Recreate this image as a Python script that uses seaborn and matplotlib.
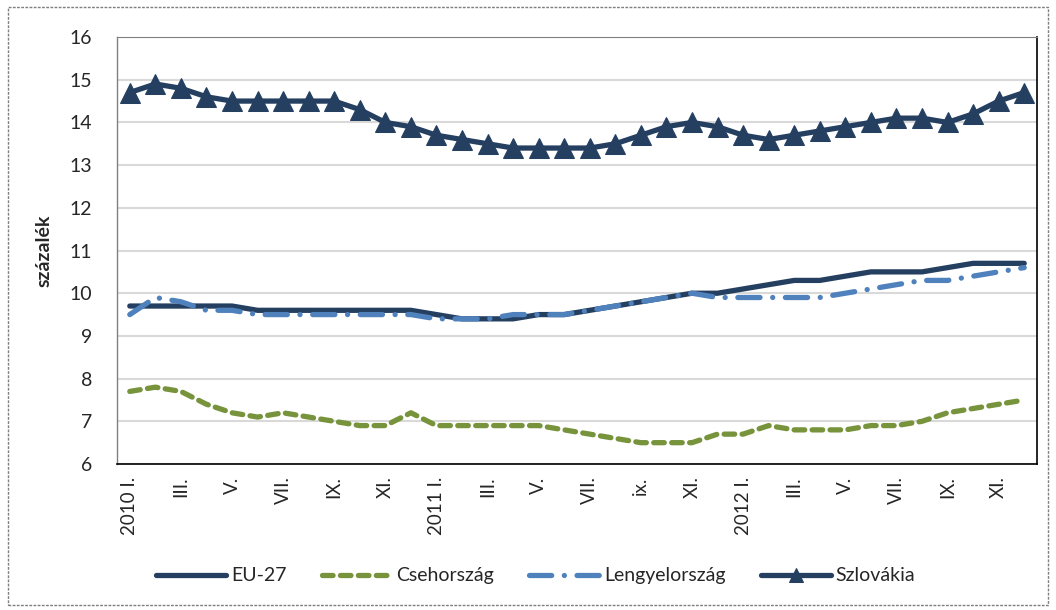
import matplotlib.pyplot as plt
import seaborn as sns
import pandas as pd
import numpy as np
from matplotlib.patches import Rectangle

# adatok (havi, 2010 I. - 2012 XII.)
honapok = ['I.', 'II.', 'III.', 'IV.', 'V.', 'VI.', 'VII.', 'VIII.', 'IX.', 'X.', 'XI.', 'XII.']
evek = ['2010', '2011', '2012']
tick_labels = ['2010 I.', 'III.', 'V.', 'VII.', 'IX.', 'XI.',
               '2011 I.', 'III.', 'V.', 'VII.', 'ix.', 'XI.',
               '2012 I.', 'III.', 'V.', 'VII.', 'IX.', 'XI.']

eu27 = [9.7, 9.7, 9.7, 9.7, 9.7, 9.6, 9.6, 9.6, 9.6, 9.6, 9.6, 9.6,
        9.5, 9.4, 9.4, 9.4, 9.5, 9.5, 9.6, 9.7, 9.8, 9.9, 10.0, 10.0,
        10.1, 10.2, 10.3, 10.3, 10.4, 10.5, 10.5, 10.5, 10.6, 10.7, 10.7, 10.7]
cseh = [7.7, 7.8, 7.7, 7.4, 7.2, 7.1, 7.2, 7.1, 7.0, 6.9, 6.9, 7.2,
        6.9, 6.9, 6.9, 6.9, 6.9, 6.8, 6.7, 6.6, 6.5, 6.5, 6.5, 6.7,
        6.7, 6.9, 6.8, 6.8, 6.8, 6.9, 6.9, 7.0, 7.2, 7.3, 7.4, 7.5]
lengyel = [9.5, 9.9, 9.8, 9.6, 9.6, 9.5, 9.5, 9.5, 9.5, 9.5, 9.5, 9.5,
           9.4, 9.4, 9.4, 9.5, 9.5, 9.5, 9.6, 9.7, 9.8, 9.9, 10.0, 9.9,
           9.9, 9.9, 9.9, 9.9, 10.0, 10.1, 10.2, 10.3, 10.3, 10.4, 10.5, 10.6]
szlovak = [14.7, 14.9, 14.8, 14.6, 14.5, 14.5, 14.5, 14.5, 14.5, 14.3, 14.0, 13.9,
           13.7, 13.6, 13.5, 13.4, 13.4, 13.4, 13.4, 13.5, 13.7, 13.9, 14.0, 13.9,
           13.7, 13.6, 13.7, 13.8, 13.9, 14.0, 14.1, 14.1, 14.0, 14.2, 14.5, 14.7]

idoszak = [f'{e} {h}' for e in evek for h in honapok]
df = pd.DataFrame({'idoszak': idoszak, 'EU-27': eu27, 'Csehország': cseh,
                   'Lengyelország': lengyel, 'Szlovákia': szlovak})
df['x'] = np.arange(len(df))

sns.set_style("white")
plt.rcParams['font.family'] = ['Lato', 'DejaVu Sans']

navy = '#243F60'
green = '#77933C'
blue = '#4F81BD'
lw = 3.8

fig = plt.figure(figsize=(10.56, 6.10), dpi=100)
ax = fig.add_axes([0.1108, 0.2393, 0.8712, 0.700])

sns.lineplot(data=df, x='x', y='EU-27', ax=ax, color=navy, linewidth=lw,
             label='EU-27', solid_capstyle='round')
sns.lineplot(data=df, x='x', y='Csehország', ax=ax, color=green, linewidth=lw,
             label='Csehország')
ax.lines[-1].set_dashes([2.0, 1.4])
ax.lines[-1].set_dash_capstyle('round')
sns.lineplot(data=df, x='x', y='Lengyelország', ax=ax, color=blue, linewidth=lw,
             label='Lengyelország')
ax.lines[-1].set_dashes([4.2, 2.4, 0.01, 2.4])
ax.lines[-1].set_dash_capstyle('round')
sns.lineplot(data=df, x='x', y='Szlovákia', ax=ax, color=navy, linewidth=lw,
             label='Szlovákia', marker='^', markersize=14, markeredgecolor=navy)

ax.set_xlim(-0.5, 35.5)
ax.set_ylim(6, 16)
ax.set_yticks(range(6, 17))
ax.tick_params(axis='y', labelsize=14, length=0, pad=18)
ax.set_xticks(np.arange(0, 36, 2))
ax.set_xticklabels(tick_labels, rotation=90, fontsize=13.5)
ax.set_xticks(np.arange(-0.5, 36, 1), minor=True)
ax.tick_params(axis='x', which='major', length=0, pad=9)
ax.tick_params(axis='x', which='minor', length=4, width=1.2, color='black', direction='out')
ax.set_xlabel('')
ax.set_ylabel('százalék', fontsize=14, fontweight='bold', labelpad=12)

ax.yaxis.grid(True, color='#d9d9d9', linewidth=1.5)
ax.set_axisbelow(True)
ax.spines['left'].set_color('#808080')
ax.spines['left'].set_linewidth(1)
ax.spines['top'].set_color('#808080')
ax.spines['top'].set_linestyle((0, (1, 1)))
for s in ['right', 'bottom']:
    ax.spines[s].set_color('black')
    ax.spines[s].set_linestyle((0, (1, 1)))
    ax.spines[s].set_linewidth(1.2)

leg = ax.legend(loc='center', bbox_to_anchor=(0.455, -0.262), ncol=4, frameon=False,
                fontsize=14, handlelength=3.6, handletextpad=0.25, columnspacing=1.8)
leg.legend_handles[3].set_markersize(10)

# külső keret
fig.patches.append(Rectangle((0.008, 0.008), 0.984, 0.981, transform=fig.transFigure,
                             fill=False, edgecolor='#7f7f7f', linestyle=(0, (2, 1)), linewidth=1))

fig.savefig('out.png', dpi=100)
